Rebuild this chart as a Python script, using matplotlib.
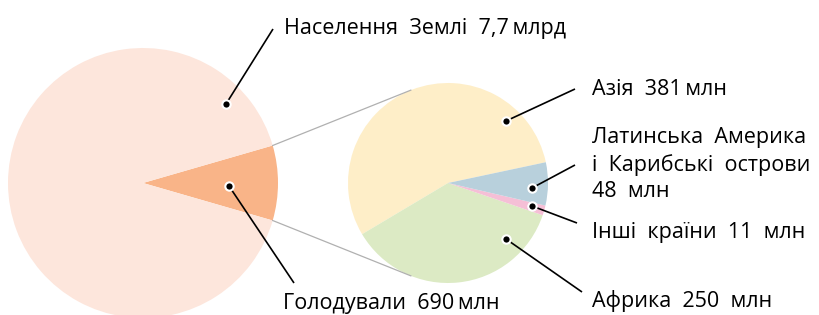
import numpy as np
import matplotlib.pyplot as plt

# data
world_total = 7700          # млн
hungry_total = 690          # млн
regions = ['Азія', 'Африка', 'Інші країни', 'Латинська Америка\nі Карибські острови']
region_values = [381, 250, 11, 48]

big_colors = ['#F9B488', '#FDE6DC']
small_colors = ['#FEEEC8', '#DCEAC4', '#F5BFD6', '#B8D0DC']

plt.rcParams['font.family'] = ['Open Sans', 'DejaVu Sans']

H = 315
fig = plt.figure(figsize=(8.2, 3.15), dpi=100)
ax = fig.add_axes([0, 0, 1, 1])

def P(x, y):
    # pixel (top-left origin) -> axes coords
    return x, H - y

# big pie
big_c = P(143, 183)
big_r = 135
half = hungry_total / world_total * 180
big_wedges, _ = ax.pie([hungry_total, world_total - hungry_total], colors=big_colors,
                       startangle=-half, center=big_c, radius=big_r, frame=True,
                       wedgeprops=dict(linewidth=0))

# small pie
small_c = P(448, 183)
small_r = 100
ax.pie(region_values, colors=small_colors, startangle=12, center=small_c,
       radius=small_r, frame=True, wedgeprops=dict(linewidth=0))

# connecting lines: from wedge edges to tangent points on small circle
cx, cy = small_c
for ang, sign in [(big_wedges[0].theta2, 1), (big_wedges[0].theta1, -1)]:
    px = big_c[0] + big_r * np.cos(np.radians(ang))
    py = big_c[1] + big_r * np.sin(np.radians(ang))
    d = np.hypot(px - cx, py - cy)
    base = np.arctan2(py - cy, px - cx)
    t = base - sign * np.arccos(small_r / d)
    tx, ty = cx + small_r * np.cos(t), cy + small_r * np.sin(t)
    ax.plot([px, tx], [py, ty], color='#B0B0B0', lw=0.9, zorder=1)

# labels: (dot, line end, baseline of last text line, text)
labels = [
    ((226, 104), (273, 29), (284, 34), f'Населення  Землі  {world_total/1000:.1f}'.replace('.', ',') + '\u2009млрд'),
    ((229, 186), (294, 283), (283, 309), f'Голодували  {hungry_total}\u2009млн'),
    ((506, 121), (575, 89), (592, 95), f'{regions[0]}  {region_values[0]}\u2009млн'),
    ((532, 188), (575, 165), (592, 197), 'Латинська  Америка\nі  Карибські  острови\n' + f'{region_values[3]}  млн'),
    ((532, 206), (577, 223), (592, 238), f'{regions[2].replace(" ", "  ")}  {region_values[2]}  млн'),
    ((506, 239), (582, 292), (592, 307), f'{regions[1]}  {region_values[1]}  млн'),
]
for dot, end, tp, txt in labels:
    x0, y0 = P(*dot)
    x1, y1 = P(*end)
    ax.plot([x0, x1], [y0, y1], color='black', lw=1.2, zorder=3, solid_capstyle='butt')
    ax.plot([x0], [y0], 'o', ms=6, color='black', mec='white', mew=1.5, zorder=4)
    tx, ty = P(*tp)
    ax.text(tx, ty, txt, fontsize=15.5, ha='left', va='baseline',
            linespacing=1.33, color='black')

ax.set_xlim(0, 820)
ax.set_ylim(0, H)
ax.set_aspect('equal')
ax.axis('off')
fig.savefig('out.png', dpi=100)
